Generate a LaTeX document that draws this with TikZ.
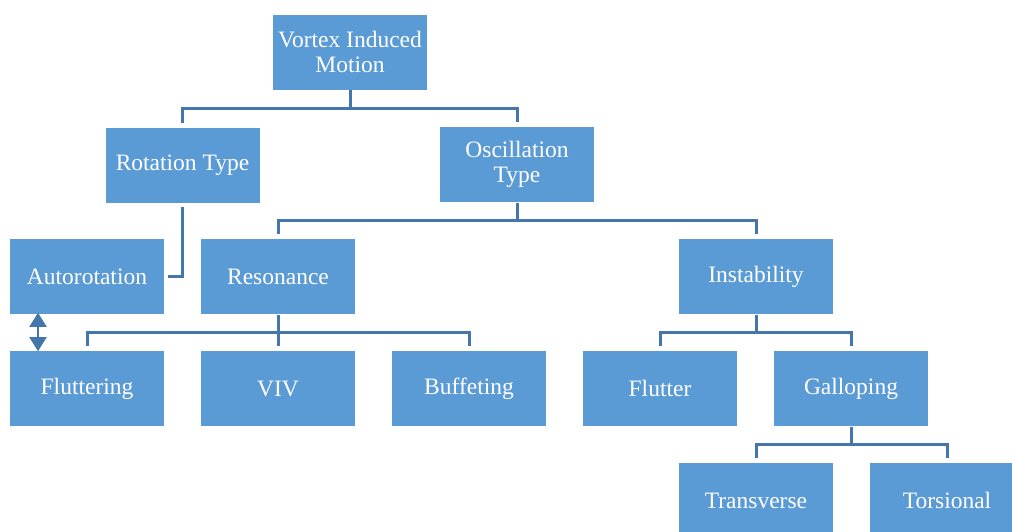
\documentclass[tikz,border=0pt]{standalone}
\usepackage{fontspec}
\setmainfont{Liberation Serif}
\usetikzlibrary{arrows.meta}
\definecolor{boxblue}{RGB}{91,155,213}
\definecolor{linkblue}{RGB}{68,118,172}
\begin{document}
\begin{tikzpicture}[x=1pt,y=-1pt,
  box/.style={fill=boxblue,draw=white,line width=0.6pt,minimum width=155pt,minimum height=76pt,
    text=white,align=center,inner sep=0pt,font=\fontsize{23.5}{25}\selectfont},
  link/.style={draw=linkblue,line width=3pt,shorten >=4pt},
  dbl/.style={draw=linkblue,line width=2pt,{Triangle[width=17pt,length=14pt]}-{Triangle[width=17pt,length=14pt]}}]
\useasboundingbox (0,0) rectangle (1012,532);
\clip (0,0) rectangle (1012,532);
\node[box] (vim) at (350,52) {Vortex Induced\\Motion};
\node[box] (rot) at (182.5,165) {Rotation Type};
\node[box] (osc) at (517,164.5) {Oscillation\\Type};
\node[box] (auto) at (87,276.5) {Autorotation};
\node[box] (res) at (278,276.5) {Resonance};
\node[box] (ins) at (756,276.5) {Instability};
\node[box] (flt) at (87,388.5) {Fluttering};
\node[box] (viv) at (278,388.5) {VIV};
\node[box] (buf) at (469,388.5) {Buffeting};
\node[box] (flu) at (660,388.5) {Flutter};
\node[box] (gal) at (851,388.5) {Galloping};
\node[box] (tra) at (756,500.5) {Transverse};
\node[box] (tor) at (947,500.5) {Torsional};
% tree connectors
\draw[link] (vim.south) -- ++(0,18) -| (rot.north);
\draw[link] (vim.south) -- ++(0,18) -| (osc.north);
\draw[link] (osc.south) -- ++(0,18) -| (res.north);
\draw[link] (osc.south) -- ++(0,18) -| (ins.north);
\draw[link] (res.south) -- ++(0,18) -| (flt.north);
\draw[link] (res.south) -- ++(0,18) -| (viv.north);
\draw[link] (res.south) -- ++(0,18) -| (buf.north);
\draw[link] (ins.south) -- ++(0,18) -| (flu.north);
\draw[link] (ins.south) -- ++(0,18) -| (gal.north);
\draw[link] (gal.south) -- ++(0,18) -| (tra.north);
\draw[link] (gal.south) -- ++(0,18) -| (tor.north);
% rotation to autorotation
\draw[link,shorten >=3pt] ([shift={(0,4)}]rot.south) |- (auto.east);
% double arrow
\coordinate (da1) at ([xshift=-49pt,yshift=2pt]auto.south);
\coordinate (da2) at ([xshift=-49pt,yshift=-1pt]flt.north);
\draw[dbl] (da1) -- (da2);
\end{tikzpicture}
\end{document}
